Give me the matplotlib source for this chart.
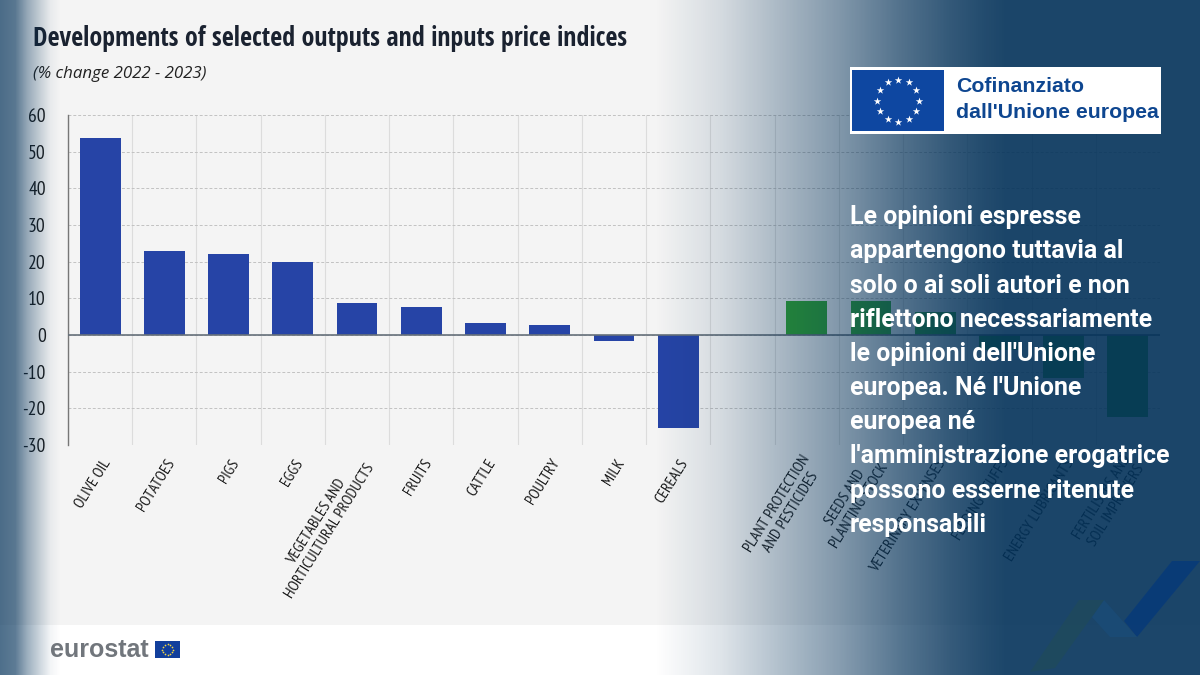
import numpy as np
import matplotlib
matplotlib.use("Agg")
import matplotlib.pyplot as plt
from matplotlib import font_manager as fm
from matplotlib.patches import Rectangle, Polygon
from matplotlib.transforms import ScaledTranslation

names = {f.name for f in fm.fontManager.ttflist}
NARROW = next((n for n in ["Open Sans Condensed", "Fira Sans Condensed", "Roboto Condensed", "Roboto"] if n in names), "DejaVu Sans")
LABEL_FONT = next((n for n in ["PT Sans Narrow", "Fira Sans Condensed", "Roboto Condensed", "Roboto"] if n in names), "DejaVu Sans")

TITLE = "Developments of selected outputs and inputs price indices"
SUBTITLE = "(% change 2022 - 2023)"
output_labels = ["OLIVE OIL", "POTATOES", "PIGS", "EGGS", "VEGETABLES AND\nHORTICULTURAL PRODUCTS",
                 "FRUITS", "CATTLE", "POULTRY", "MILK", "CEREALS"]
output_values = [53.7, 23.0, 22.0, 19.8, 8.7, 7.6, 3.3, 2.8, -1.6, -25.5]
input_labels = ["PLANT PROTECTION\nAND PESTICIDES", "SEEDS AND\nPLANTING STOCK", "VETERINARY EXPENSES",
                "FEEDING STUFFS", "ENERGY LUBRICANTS", "FERTILISERS AND\nSOIL IMPROVERS"]
input_values = [9.2, 9.2, 6.2, -4.2, -11.8, -22.4]
y_ticks = [60, 50, 40, 30, 20, 10, 0, -10, -20, -30]
NOTE = ("Le opinioni espresse\nappartengono tuttavia al\nsolo o ai soli autori e non\n"
        "riflettono necessariamente\nle opinioni dell'Unione\neuropea. Né l'Unione\neuropea né\n"
        "l'amministrazione erogatrice\npossono esserne ritenute\nresponsabili")

W, H = 1200, 675
fig = plt.figure(figsize=(12, 6.75), dpi=100, facecolor="white")

# page background
bg = fig.add_axes([0, 0, 1, 1], zorder=0)
bg.set_xlim(0, W); bg.set_ylim(H, 0); bg.axis("off")
bg.add_patch(Rectangle((0, 0), W, 625, color="#f4f4f4", lw=0))

# chart
ax = fig.add_axes([68 / W, 1 - 445 / H, (1160 - 68) / W, 330 / H], zorder=1)
ax.patch.set_alpha(0)
n_out = len(output_values)
x_out = np.arange(n_out)
x_in = np.arange(len(input_values)) + n_out + 1
ax.bar(x_out, output_values, width=0.635, color="#2644a6", zorder=3)
ax.bar(x_in, input_values, width=0.635, color="#32a82e", zorder=3)
ax.set_xlim(-0.5, n_out + len(input_values) + 0.5)
ax.set_ylim(min(y_ticks), max(y_ticks))
ax.set_yticks(y_ticks)
ax.set_yticklabels([str(v) for v in y_ticks], family=LABEL_FONT, fontsize=14, color="#1a1a1a")
ax.tick_params(axis="y", length=0, pad=16)
ax.tick_params(axis="x", length=0, pad=11)
ax.set_xticks(np.concatenate([x_out, x_in]))
ax.set_xticklabels(output_labels + input_labels, rotation=58, ha="right", va="center",
                   rotation_mode="anchor", multialignment="center",
                   family=LABEL_FONT, fontsize=11.3, color="#1a1a1a")
shift = ScaledTranslation(7 / 100, 0, fig.dpi_scale_trans)
for lab in ax.get_xticklabels():
    lab.set_transform(lab.get_transform() + shift)
for s in ["top", "right", "bottom"]:
    ax.spines[s].set_visible(False)
ax.spines["left"].set_color("#777777"); ax.spines["left"].set_linewidth(1)
ax.yaxis.grid(True, ls=(0, (3, 2)), color="#c2c2c2", lw=0.7, zorder=1)
for b in np.arange(-0.5, n_out + len(input_values) + 0.5):
    ax.axvline(b, color="#dcdcdc", lw=0.8, zorder=0)
ax.axhline(0, color="#66707a", lw=1.2, zorder=4)
ax.set_axisbelow(True)

# titles
fig.text(33 / W, 1 - 39 / H, TITLE, family=NARROW, weight="bold", fontsize=18.7, color="#1a2230", va="center", zorder=2)
fig.text(33 / W, 1 - 74 / H, SUBTITLE, family="Open Sans", style="italic", fontsize=12.2, color="#222222", va="center", zorder=2)

# gradients over the chart
ov = fig.add_axes([0, 0, 1, 1], zorder=3)
ov.set_xlim(0, W); ov.set_ylim(H, 0); ov.axis("off")
px = np.arange(W)
al_r = np.interp(px, [655, 720, 780, 840, 900, 950, 985, 1005, 1200], [0, .13, .31, .48, .67, .80, .87, .90, .90])
al_l = np.interp(px, [0, 15, 27, 40, 50, 60], [.70, .64, .39, .19, .05, 0])
grad = np.zeros((1, W, 4))
grad[0, :, :3] = np.array([2, 49, 89]) / 255
grad[0, :, 3] = al_r + al_l
ov.imshow(grad, extent=(0, W, H, 0), aspect="auto", interpolation="nearest")
ov.set_xlim(0, W); ov.set_ylim(H, 0)

# arrow motif bottom right
ov.add_patch(Polygon([[1124, 621], [1172, 561], [1200, 561], [1137, 637]], color="#083a78", lw=0, alpha=.9))
ov.add_patch(Polygon([[1092, 617], [1104, 600], [1137, 637], [1110, 637]], color="#1a4a74", lw=0))
ov.add_patch(Polygon([[1030, 672], [1079, 600], [1104, 600], [1055, 668]], color="#1f4a5c", lw=0, alpha=.8))

# EU label
ov.add_patch(Rectangle((850, 67), 311, 67, color="white", lw=0, zorder=5))
ov.add_patch(Rectangle((852, 70), 92, 61, color="#0e47a1", lw=0, zorder=6))
ang = np.deg2rad(np.arange(0, 360, 30))
ov.scatter(898 + 21 * np.cos(ang), 100.5 + 21 * np.sin(ang), marker="*", s=32, color="white", lw=0, zorder=7)
ov.text(956, 87, "Cofinanziato", family="Liberation Sans", weight="bold", fontsize=15.3, color="#0e4690", va="center", zorder=7)
ov.text(956, 113, "dall'Unione europea", family="Liberation Sans", weight="bold", fontsize=15.3, color="#0e4690", va="center", zorder=7)

# disclaimer
ov.text(850, 371, NOTE, family="Roboto", weight="bold", fontsize=17.9, color="white", va="center", ha="left",
        linespacing=1.536, zorder=8)

# eurostat logo
ov.text(50, 650, "eurostat", family="Liberation Sans", weight="bold", fontsize=18, color="#71767c", va="center", zorder=7)
ov.add_patch(Rectangle((155, 641), 25, 17, color="#123f9c", lw=0, zorder=6))
ov.scatter(167.5 + 5.5 * np.cos(ang), 649.5 + 5.5 * np.sin(ang), marker="o", s=1.5, color="#f4d742", lw=0, zorder=7)

fig.savefig("out.png", dpi=100)
